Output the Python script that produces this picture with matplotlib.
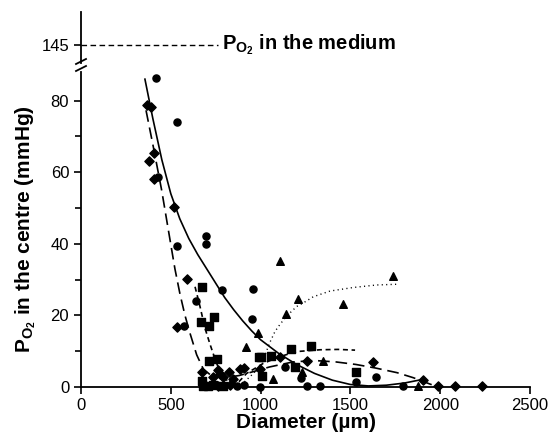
import matplotlib
matplotlib.use("Agg")
import matplotlib.pyplot as plt
from matplotlib.ticker import MultipleLocator
from matplotlib.lines import Line2D

plt.rcParams['font.family'] = ['Liberation Sans', 'DejaVu Sans']
plt.rcParams['mathtext.fontset'] = 'custom'
plt.rcParams['mathtext.rm'] = 'Liberation Sans'
plt.rcParams['mathtext.it'] = 'Liberation Sans'
plt.rcParams['mathtext.bf'] = 'Liberation Sans:bold'

# --- data (diameter in um, PO2 in mmHg) ---
circle_x = [416, 533, 431, 536, 694, 694, 575, 639, 785, 955, 950, 1138, 1225, 1257,
            1333, 997, 1530, 1643, 1795, 867, 905]
circle_y = [86.2, 73.9, 58.6, 39.5, 42.2, 40.0, 17.1, 24.1, 27.1, 27.4, 18.9, 5.7, 2.4, 0.4,
            0.4, 0.0, 1.3, 2.8, 0.3, 0.3, 0.5]

diamond_x = [366, 388, 406, 380, 406, 516, 533, 588, 672, 762, 776, 822, 885, 906, 995,
             1110, 1258, 1624, 1903, 1990, 2084, 2235, 737, 792, 848, 765, 830]
diamond_y = [78.7, 78.3, 65.3, 63.2, 58.2, 50.3, 16.8, 30.1, 4.3, 4.8, 3.7, 4.2, 5.0, 5.2, 5.0,
             8.5, 7.3, 6.9, 2.0, 0.3, 0.3, 0.3, 2.9, 2.9, 2.3, 0.4, 0.5]

square_x = [672, 670, 714, 742, 714, 757, 989, 1000, 1059, 1168, 1280, 1006, 676, 1192,
            1530, 681, 709, 737, 792]
square_y = [28.0, 18.2, 17.0, 19.5, 7.3, 7.8, 8.5, 8.5, 8.8, 10.5, 11.4, 3.1, 1.7, 5.5,
            4.1, 0.4, 0.3, 0.5, 0.4]

triangle_x = [1106, 1208, 1140, 985, 917, 1460, 1739, 1071, 1232, 1346, 1878]
triangle_y = [35.2, 24.6, 20.3, 15.0, 11.3, 23.1, 31.1, 2.2, 4.3, 7.3, 0.4]

# fitted curves
solid_x = [356, 400, 450, 500, 550, 600, 650, 700, 750, 800, 850, 900, 950, 1000, 1100,
           1200, 1300, 1400, 1500, 1600, 1700, 1800, 1890]
solid_y = [86.0, 75.0, 63.5, 54.0, 47.0, 41.5, 37.0, 33.0, 29.0, 25.0, 21.6, 18.5, 15.7, 13.2,
           9.4, 6.3, 3.8, 1.9, 0.7, 0.3, 0.5, 1.1, 2.0]

longdash_x = [362, 403, 449, 496, 523, 551, 579, 607, 644, 681, 730, 800, 880, 960, 1050,
              1180, 1300, 1420, 1530, 1640, 1760, 1850, 1960]
longdash_y = [77.3, 67.0, 55.0, 41.0, 33.0, 26.0, 20.0, 15.0, 9.0, 5.0, 3.0, 2.6, 3.2, 4.3, 5.6,
              7.0, 7.4, 7.0, 6.3, 5.3, 4.0, 2.6, 0.5]

shortdash_x = [635, 663, 690, 718, 745, 770, 802, 848, 880, 922, 1015, 1108, 1201, 1331,
               1430, 1526]
shortdash_y = [28.0, 22.4, 16.5, 12.0, 8.0, 4.7, 2.2, 1.0, 1.5, 3.8, 6.6, 8.5, 9.9, 10.4,
               10.5, 10.3]

dotted_x = [870, 900, 922, 960, 997, 1025, 1052, 1080, 1108, 1145, 1201, 1238, 1293, 1386,
            1516, 1646, 1758]
dotted_y = [0.0, 1.0, 2.0, 3.8, 5.7, 9.0, 12.5, 15.5, 17.5, 19.8, 22.5, 23.5, 25.2, 26.8,
            27.8, 28.5, 28.7]

medium_x = [0, 763]
medium_po2 = 145

W, H = 552, 440
fig = plt.figure(figsize=(W / 100, H / 100), dpi=100)
ax = fig.add_axes([81 / W, 53 / H, 449 / W, 315 / H])
axt = fig.add_axes([81 / W, (H - 63) / H, 449 / W, 51 / H])

# main panel
ax.plot(solid_x, solid_y, color='black', lw=1.2, ls='-')
ax.plot(longdash_x, longdash_y, color='black', lw=1.2, dashes=(7, 3.5))
ax.plot(shortdash_x, shortdash_y, color='black', lw=1.2, dashes=(3, 2.2))
ax.plot(dotted_x, dotted_y, color='black', lw=1.0, dashes=(0.8, 2.4))

ax.scatter(circle_x, circle_y, marker='o', s=26, color='black', zorder=3, clip_on=False)
ax.scatter(diamond_x, diamond_y, marker='D', s=22, color='black', zorder=3, clip_on=False)
ax.scatter(square_x, square_y, marker='s', s=26, color='black', zorder=3, clip_on=False)
ax.scatter(triangle_x, triangle_y, marker='^', s=30, color='black', zorder=3, clip_on=False)

ax.set_xlim(0, 2500)
ax.set_ylim(0, 88)
ax.xaxis.set_major_locator(MultipleLocator(500))
ax.yaxis.set_major_locator(MultipleLocator(20))
ax.yaxis.set_minor_locator(MultipleLocator(10))
for s in ['top', 'right']:
    ax.spines[s].set_visible(False)
for s in ['left', 'bottom']:
    ax.spines[s].set_linewidth(1.3)
ax.tick_params(which='both', direction='out', width=1.2, labelsize=12, colors='black')
ax.tick_params(which='major', length=5)
ax.tick_params(which='minor', length=4)
ax.tick_params(axis='x', pad=3)

ax.set_xlabel('Diameter (µm)', fontsize=15, fontweight='bold')
ax.xaxis.set_label_coords(0.5, -0.083)
ax.xaxis.label.set_va('top')
ax.set_ylabel(r'P$_{\mathbf{O_2}}$ in the centre (mmHg)', fontsize=15, fontweight='bold')
ax.yaxis.set_label_coords(-0.095, 0.5)

# upper panel with medium PO2
axt.plot(medium_x, [medium_po2, medium_po2], color='black', lw=1.0, dashes=(4, 2.5))
axt.text(785, medium_po2, r'P$_{\mathbf{O_2}}$ in the medium', fontsize=14.5,
         fontweight='bold', va='center', ha='left')
axt.set_xlim(0, 2500)
axt.set_ylim(141.4, 151.6)
axt.set_yticks([medium_po2])
axt.set_xticks([])
for s in ['top', 'right', 'bottom']:
    axt.spines[s].set_visible(False)
axt.spines['left'].set_linewidth(1.3)
axt.tick_params(direction='out', width=1.2, length=5, labelsize=12)
axt.patch.set_alpha(0)

# axis break marks
for yb in (61.5, 68.5):
    fig.add_artist(Line2D([76 / W, 86 / W], [(H - yb - 2.5) / H, (H - yb + 2.5) / H],
                          color='black', lw=1.3, transform=fig.transFigure))

fig.savefig('out.png', dpi=100)
